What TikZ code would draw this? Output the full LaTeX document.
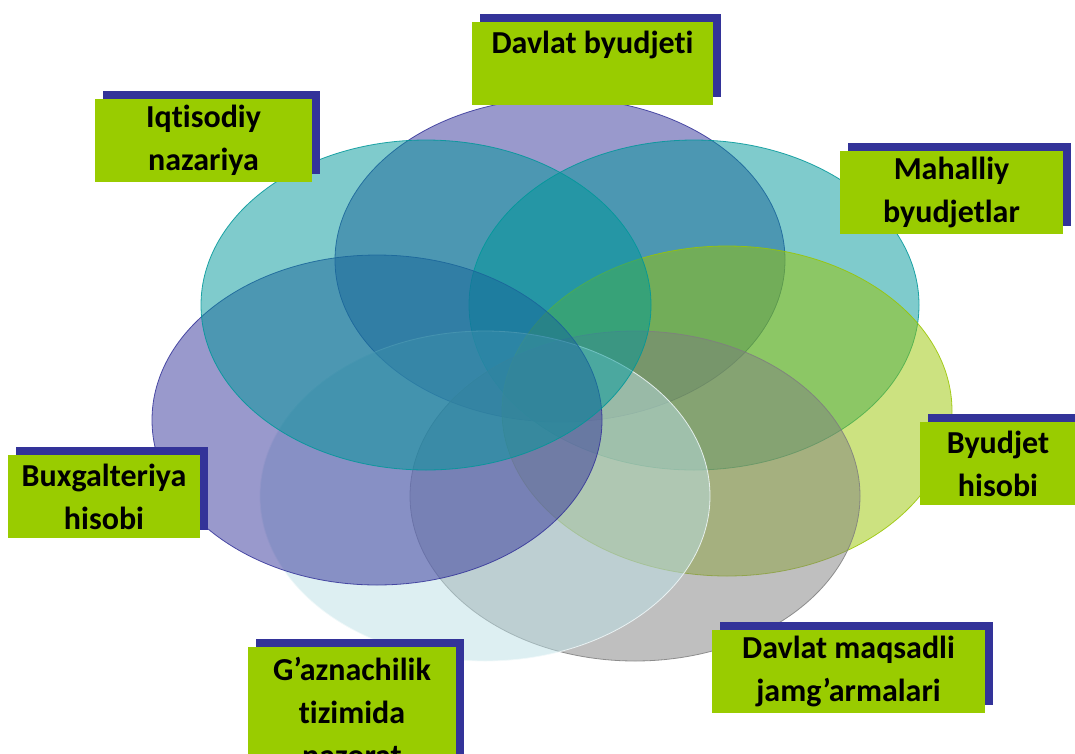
\documentclass[tikz,border=0pt]{standalone}
\usepackage{fontspec}
\setmainfont{Carlito}[Ligatures=NoCommon]
\usepackage{xcolor}
\definecolor{mpurple}{HTML}{333399}
\definecolor{mteal}{HTML}{009799}
\definecolor{mgreen}{HTML}{99C501}
\definecolor{mgrey}{HTML}{7F7F7F}
\definecolor{mlight}{HTML}{BBDFE5}
\definecolor{lgreen}{HTML}{99CC00}
\definecolor{lblue}{HTML}{333399}
\usetikzlibrary{shadows}

\begin{document}
\begin{tikzpicture}[x=1pt,y=-1pt,
    ring/.style={fill opacity=0.5, draw opacity=0.85, line width=0.8pt},
    lbl/.style={fill=lgreen, align=center, minimum height=83pt, inner sep=0pt,
      font=\bfseries\fontsize{32}{43}\selectfont,
      drop shadow={shadow xshift=8pt, shadow yshift=8pt, fill=lblue, opacity=1}}]

            % Frame of the picture
            \useasboundingbox (0,0) rectangle (1075,753);

            % Define parameters
            \def\rx{225pt}   % half width of each ellipse
            \def\ry{165pt}   % half height of each ellipse

            % Draw the ellipses, clockwise from the top
            \draw[ring, fill=mpurple, draw=mpurple] (560,260) ellipse [x radius=\rx, y radius=162pt];
            \draw[ring, fill=mteal, draw=mteal] (694,305) ellipse [x radius=\rx, y radius=\ry];
            \draw[ring, fill=mgreen, draw=mgreen] (727,411) ellipse [x radius=\rx, y radius=\ry];
            \draw[ring, fill=mgrey, draw=mgrey] (635,496) ellipse [x radius=\rx, y radius=\ry];
            \draw[ring, fill=mlight, draw=white!80!mlight] (485,496) ellipse [x radius=\rx, y radius=\ry];
            \draw[ring, fill=mpurple, draw=mpurple] (377,420) ellipse [x radius=\rx, y radius=\ry];
            \draw[ring, fill=mteal, draw=mteal] (426,305) ellipse [x radius=\rx, y radius=\ry];

            % Label boxes
            \node[lbl, minimum width=241pt] (DB) at (592.5,63.5) {Davlat byudjeti\\~};
            \node[lbl, minimum width=223pt] (MB) at (951.5,192.5) {Mahalliy\\byudjetlar};
            \node[lbl, minimum width=156pt] (BH) at (998,463.5) {Byudjet\\hisobi};
            \node[lbl, minimum width=273pt] (DM) at (848.5,671.5) {Davlat maqsadli\\jamg’armalari};
            \node[lbl, minimum width=208pt, minimum height=130pt] (GT) at (352,712) {G’aznachilik\\tizimida\\nazorat};
            \node[lbl, minimum width=192pt] (BX) at (104,496.5) {Buxgalteriya\\hisobi};
            \node[lbl, minimum width=217pt] (IN) at (203.5,140.5) {Iqtisodiy\\nazariya};
          \end{tikzpicture}
\end{document}
